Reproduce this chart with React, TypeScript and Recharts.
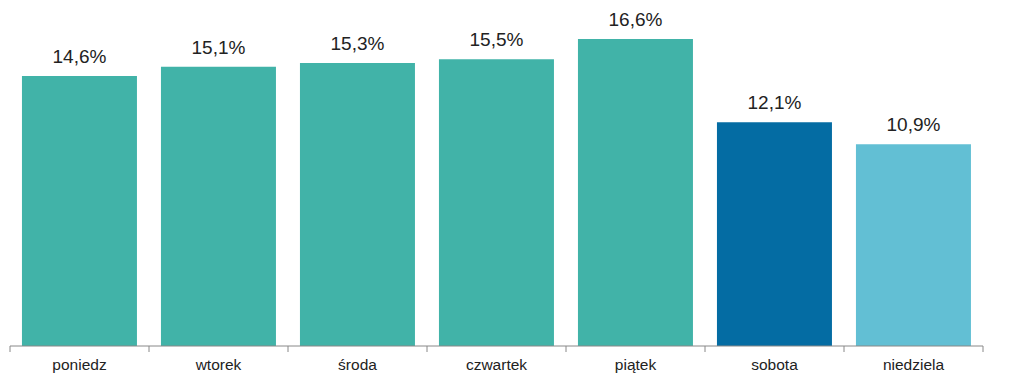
import { BarChart, Bar, XAxis, YAxis, Cell, LabelList } from "recharts";

const days = ["poniedz", "wtorek", "środa", "czwartek", "piątek", "sobota", "niedziela"];
const shares = [14.6, 15.1, 15.3, 15.5, 16.6, 12.1, 10.9];
const colors = ["#41b3a8", "#41b3a8", "#41b3a8", "#41b3a8", "#41b3a8", "#046ca3", "#62bfd4"];

const data = days.map((d, i) => ({ day: d, share: shares[i] }));

const W = 1024;
const H = 392;
const M = { top: 13, right: 41, bottom: 0, left: 10 };
const band = (W - M.left - M.right) / days.length;

function DayTick(props: any) {
  const { x, y, payload, index } = props;
  const left = x - band / 2;
  return (
    <g>
      <line x1={left} y1={y - 8} x2={left} y2={y - 2} stroke="#888" />
      {index === days.length - 1 && <line x1={x + band / 2} y1={y - 8} x2={x + band / 2} y2={y - 2} stroke="#888" />}
      <text x={x} y={y + 16} textAnchor="middle" fontSize={15.5} fill="#222" fontFamily="Liberation Sans, Arial, sans-serif">
        {payload.value}
      </text>
    </g>
  );
}

const fmt = (v: any) => `${Number(v).toFixed(1).replace(".", ",")}%`;

export default function App() {
  return (
    <div style={{ position: "absolute", left: 0, top: 0, background: "#fff" }}>
      <BarChart width={W} height={H} data={data} margin={M} barCategoryGap="8.6%">
        <XAxis dataKey="day" axisLine={{ stroke: "#888" }} tickLine={false} tick={<DayTick />} height={46} interval={0} />
        <YAxis hide domain={[0, 18]} />
        <Bar dataKey="share" isAnimationActive={false}>
          {data.map((_, i) => (
            <Cell key={i} fill={colors[i]} />
          ))}
          <LabelList dataKey="share" position="top" offset={13} formatter={fmt} fill="#222" fontSize={19} fontFamily="Liberation Sans, Arial, sans-serif" />
        </Bar>
      </BarChart>
    </div>
  );
}
